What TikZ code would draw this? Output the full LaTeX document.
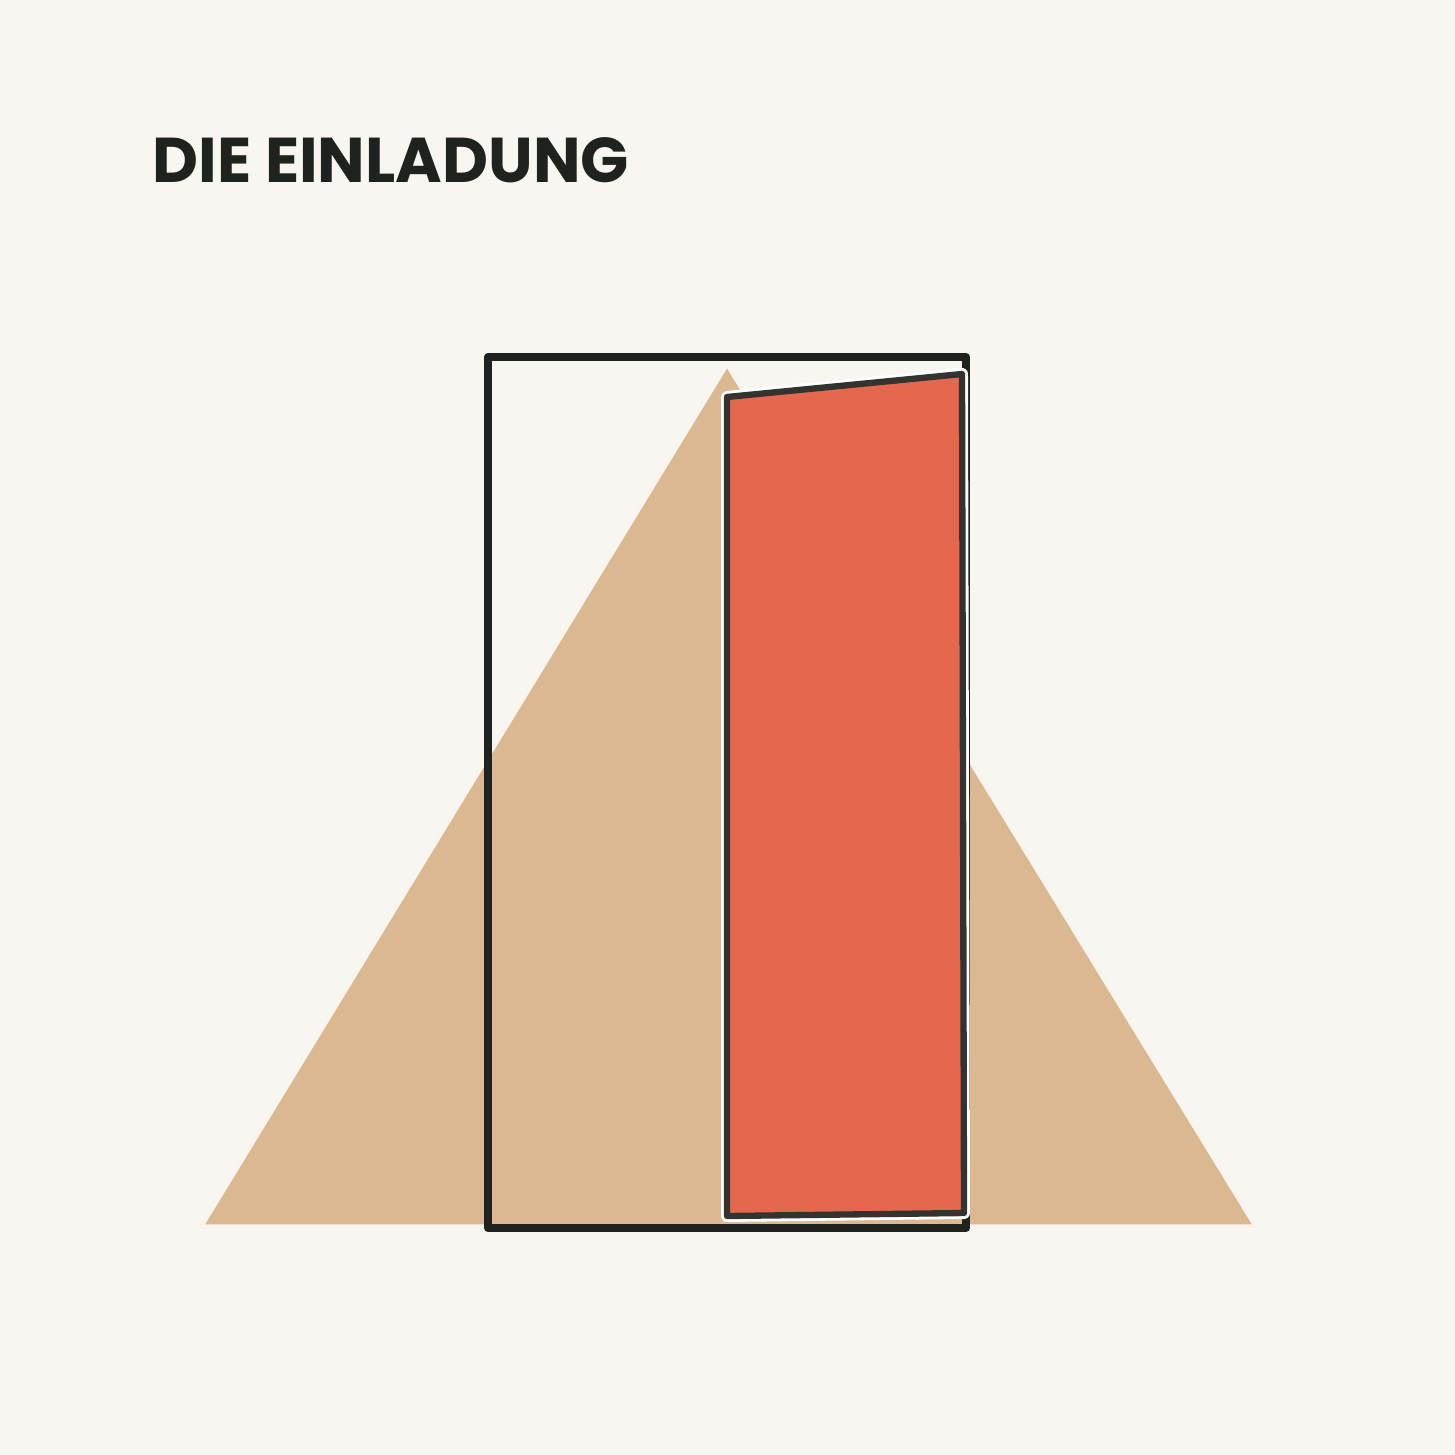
\documentclass[tikz,border=0pt]{standalone}
\usepackage{fontspec}
\newfontfamily\comicfont{Poppins}
\usetikzlibrary{calc}
\definecolor{paper}{HTML}{F7F6F1}
\definecolor{sand}{HTML}{DAB891}
\definecolor{brick}{HTML}{E4684E}
\definecolor{ink}{HTML}{1E231F}
\definecolor{doorink}{HTML}{33342F}
\tikzset{frame/.style={draw=ink,line width=2.3pt,line join=round,line cap=round}}
\tikzset{door/.style={draw=doorink,fill=brick,line width=1.8pt,line join=round}}
\tikzset{halo/.style={draw=white,line width=3.4pt,line join=round}}
\tikzset{titel/.style={font=\comicfont\bfseries\fontsize{18}{18}\selectfont,text=ink,anchor=west,inner sep=0pt}}

\begin{document}
\begin{tikzpicture}[x=0.01cm,y=-0.01cm]
        \fill[paper] (0,0) rectangle (1455,1455);
        \useasboundingbox (0,0) rectangle (1455,1455);
        % mountain
        \filldraw[draw=white!85!sand,fill=sand,line width=1pt](202,1226)--(727,365)--(1255,1226)--cycle;
        % door frame
        \draw[frame] (488,357)--(966,357)--(966,1228)--(488,1228)--cycle;
        % open door
        \draw[halo] (727,397)--(962,374)--(964,1213)--(727,1216)--cycle;
        \draw[door] (727,397)--(962,374)--(964,1213)--(727,1216)--cycle;
        \node[titel] (title) at (152,160) {DIE EINLADUNG};
      \end{tikzpicture}
\end{document}
